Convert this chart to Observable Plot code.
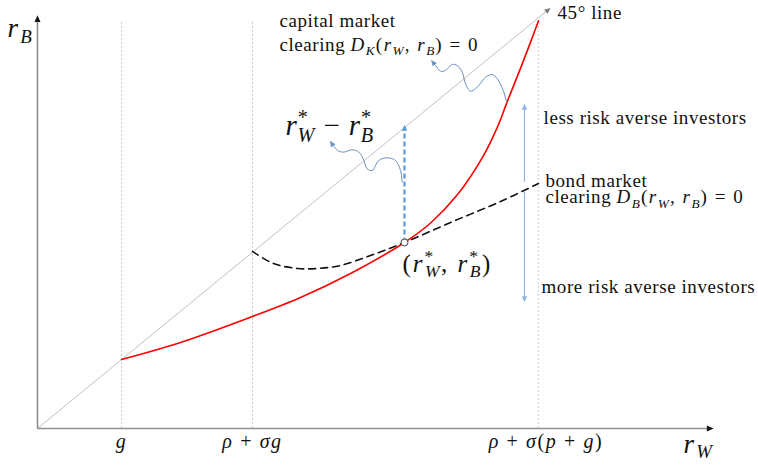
<!DOCTYPE html>
<html><head><meta charset="utf-8">
<script src="https://cdn.jsdelivr.net/npm/d3@7"></script>
<script src="https://cdn.jsdelivr.net/npm/@observablehq/plot@0.6"></script>
<style>body{margin:0;background:#fff} svg text{letter-spacing:0.03em}</style>
</head><body><div id="chart"></div>
<script>
// ---- data (model units, r_W on x, r_B on y) ----
const redX = [1.248, 2.125, 3.195, 3.908, 4.651, 5.453, 5.84, 6.241, 6.627, 6.835, 6.984, 7.177, 7.325, 7.444];
const redY = [1.25, 1.559, 2.03, 2.374, 2.809, 3.371, 3.724, 4.239, 4.946, 5.466, 5.937, 6.526, 6.997, 7.389];
const bondX = [3.195, 3.507, 3.863, 4.16, 4.5, 4.948, 5.453, 6.137, 6.88, 7.444];
const bondY = [3.21, 2.99, 2.9, 2.9, 2.954, 3.135, 3.371, 3.733, 4.114, 4.44];
const wave1X = [6.969, 6.92, 6.831, 6.756, 6.657, 6.533, 6.434, 6.36, 6.311, 6.236, 6.162, 6.062, 5.988, 5.914, 5.874];
const wave1Y = [5.913, 6.126, 6.337, 6.415, 6.366, 6.185, 6.113, 6.247, 6.457, 6.578, 6.597, 6.488, 6.475, 6.578, 6.638];
const wave2X = [5.419, 5.394, 5.319, 5.196, 5.071, 4.973, 4.898, 4.839, 4.774, 4.676, 4.551, 4.477, 4.413, 4.368];
const wave2Y = [4.464, 4.676, 4.857, 4.906, 4.857, 4.676, 4.707, 4.888, 5.008, 5.051, 5.008, 5.026, 5.099, 5.171];
const xTicks = [1.25, 3.195, 7.44];
const xTickLabelX = [1.25, 3.195, 7.556];
const xTickLabels = ["$g$", "$ρ + σg$", "$ρ + σ(p + g)$"];
const eqX = 5.453, eqY = 3.371;      // equilibrium (r_W*, r_B*)
const diagEnd = 7.59;                // end of 45° line
const xMax = 10, yMax = 7.43;        // axis extents
const vTop = 7.36;                   // top of dotted guides
const riskX = 7.236;                 // risk aversion double arrow
const riskTopA = 4.47, riskTopB = 5.835, riskBotA = 4.30, riskBotB = 2.338;

const smallLabels = [
  {x: 7.727, y: 7.43, text: "45° line"},
  {x: 3.596, y: 7.267, text: "capital market"},
  {x: 3.596, y: 6.85, text: "clearing $D_{K}(r_{W}, r_{B}) = 0$"},
  {x: 7.519, y: 5.527, text: "less risk averse investors"},
  {x: 7.548, y: 4.368, text: "bond market"},
  {x: 7.548, y: 4.078, text: "clearing $D_{B}(r_{W}, r_{B}) = 0$"},
  {x: 7.489, y: 2.447, text: "more risk averse investors"}
];
const spreadLabel = [{x: 3.685, y: 5.31, text: "$r^{*}_{W} − r^{*}_{B}$"}];
const eqLabel = [{x: 5.423, y: 2.845, text: "$(r^{*}_{W}, r^{*}_{B})$"}];
const axisLabels = [
  {x: -0.446, y: 7.086, text: "$r_{B}$"},
  {x: 9.599, y: -0.435, text: "$r_{W}$"}
];

const serif = "Liberation Serif, Times New Roman, serif";
const AXIS = "#8f8f8f", DIAG = "#b0b0b0";

const plot = Plot.plot({
  width: 758, height: 465,
  marginLeft: 37, marginRight: 48, marginTop: 18, marginBottom: 37,
  x: {domain: [0, xMax], axis: null},
  y: {domain: [0, yMax], axis: null},
  style: {background: "white", overflow: "visible"},
  marks: [
    Plot.ruleX(xTicks, {x: d => d, y1: 0, y2: vTop, stroke: "#c4c4c4", strokeWidth: 0.9, strokeDasharray: "2,2"}),
    Plot.link([0], {x1: 0, y1: 0, x2: diagEnd, y2: diagEnd, stroke: DIAG, strokeWidth: 0.8, markerEnd: "arrow"}),
    Plot.link([0], {x1: 0, y1: 0, x2: xMax, y2: 0, stroke: AXIS, strokeWidth: 1.6, markerEnd: "arrow"}),
    Plot.link([0], {x1: 0, y1: 0, x2: 0, y2: yMax, stroke: AXIS, strokeWidth: 1.6, markerEnd: "arrow"}),
    Plot.line(bondX, {x: bondX, y: bondY, curve: "catmull-rom", stroke: "#111", strokeWidth: 1.6, strokeDasharray: "7,5"}),
    Plot.line(redX, {x: redX, y: redY, curve: "catmull-rom", stroke: "#ff0000", strokeWidth: 1.6}),
    Plot.link([0], {x1: riskX, y1: riskTopA, x2: riskX, y2: riskTopB, stroke: "#8db4e2", strokeWidth: 1.1, markerEnd: "arrow"}),
    Plot.link([0], {x1: riskX, y1: riskBotA, x2: riskX, y2: riskBotB, stroke: "#8db4e2", strokeWidth: 1.1, markerEnd: "arrow"}),
    Plot.link([0], {x1: eqX, y1: eqY, x2: eqX, y2: eqX, stroke: "#5b9bd5", strokeWidth: 2.2, strokeDasharray: "5,3", markerEnd: "arrow"}),
    Plot.line(wave1X, {x: wave1X, y: wave1Y, curve: "catmull-rom", stroke: "#6892bf", strokeWidth: 1, markerEnd: "arrow"}),
    Plot.line(wave2X, {x: wave2X, y: wave2Y, curve: "catmull-rom", stroke: "#6892bf", strokeWidth: 1, markerEnd: "arrow"}),
    Plot.dot([0], {x: eqX, y: eqY, r: 3.5, fill: "white", stroke: "#444", strokeWidth: 1}),
    Plot.text(smallLabels, {x: "x", y: "y", text: "text", textAnchor: "start", lineAnchor: "bottom", fontSize: 19, fontFamily: serif, fill: "#111"}),
    Plot.text(spreadLabel, {x: "x", y: "y", text: "text", textAnchor: "start", lineAnchor: "bottom", fontSize: 29, fontFamily: serif, fill: "#111"}),
    Plot.text(eqLabel, {x: "x", y: "y", text: "text", textAnchor: "start", lineAnchor: "bottom", fontSize: 25, fontFamily: serif, fill: "#111"}),
    Plot.text(axisLabels, {x: "x", y: "y", text: "text", textAnchor: "start", lineAnchor: "bottom", fontSize: 27, fontFamily: serif, fill: "#111"}),
    Plot.text(xTickLabels, {x: xTickLabelX, y: -0.362, text: d => d, textAnchor: "middle", lineAnchor: "bottom", fontSize: 20, fontFamily: serif, fill: "#111"})
  ]
});
document.getElementById("chart").appendChild(plot);

// filled triangular arrowheads
const headColor = {[AXIS]: "#111", [DIAG]: "#777"};
plot.querySelectorAll("marker").forEach(m => {
  const c = m.getAttribute("stroke");
  m.setAttribute("markerUnits", "userSpaceOnUse");
  const big = c === AXIS;
  m.setAttribute("markerWidth", big ? 9 : 8);
  m.setAttribute("markerHeight", big ? 9 : 8);
  m.setAttribute("fill", headColor[c] || c);
  m.setAttribute("stroke", "none");
  const p = m.querySelector("path");
  p.setAttribute("d", "M-4,-3.3L3.5,0L-4,3.3Z");
  p.removeAttribute("stroke-dasharray");
});

// LaTeX-like math rendering with tspans
function renderMath(el, s, fs) {
  const NS = "http://www.w3.org/2000/svg";
  while (el.firstChild) el.removeChild(el.firstChild);
  let inMath = false, cur = 0, i = 0, buf = "";
  const mathSpacing = fs < 28 ? "0.08em" : null;
  function span(text, italic, size, shift, dx) {
    const t = document.createElementNS(NS, "tspan");
    t.textContent = text;
    if (italic) t.setAttribute("font-style", "italic");
    if (inMath && mathSpacing) t.setAttribute("letter-spacing", mathSpacing);
    if (size !== fs) t.setAttribute("font-size", size);
    const dy = shift - cur;
    if (dy) t.setAttribute("dy", dy);
    cur = shift;
    if (dx) t.setAttribute("dx", dx);
    el.appendChild(t);
  }
  function emit(text, size, shift, dx) {
    if (!inMath) { span(text, false, size, shift, dx); return; }
    const re = /[A-Za-zρσ]+|[^A-Za-zρσ]+/g; let m, first = true;
    while ((m = re.exec(text))) {
      span(m[0], /[A-Za-zρσ]/.test(m[0][0]), size, shift, first ? dx : 0);
      first = false;
    }
  }
  function group() {
    if (s[i] === "{") { const j = s.indexOf("}", i); const g = s.slice(i + 1, j); i = j + 1; return g; }
    return s[i++];
  }
  const flush = () => { if (buf) { emit(buf, fs, 0, 0); buf = ""; } };
  while (i < s.length) {
    const c = s[i];
    if (c === "$") { flush(); inMath = !inMath; i++; }
    else if (c === "_" || c === "^") {
      flush(); i++;
      let sup = null, sub = null;
      const g1 = group();
      if (c === "^") sup = g1; else sub = g1;
      if (s[i] === "_" && sub === null) { i++; sub = group(); }
      else if (s[i] === "^" && sup === null) { i++; sup = group(); }
      const ss = fs * 0.7;
      if (sup !== null) emit(sup, ss, -fs * 0.38, 0);
      if (sub !== null) emit(sub, ss, fs * 0.22, sup !== null ? -ss * 0.55 * sup.length : 0);
    } else { buf += c; i++; }
  }
  flush();
}
plot.querySelectorAll("text").forEach(el => {
  const s = el.textContent;
  if (s.includes("$")) {
    const fs = parseFloat(getComputedStyle(el).fontSize);
    renderMath(el, s, fs);
  }
});
</script></body></html>
